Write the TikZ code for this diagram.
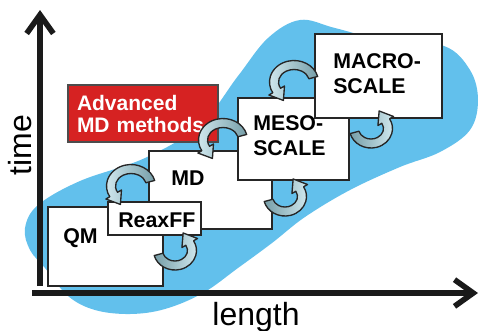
\documentclass[tikz,border=0pt]{standalone}
\usepackage{fontspec}
\setmainfont{Liberation Sans}
\usetikzlibrary{arrows.meta}

\definecolor{blobblue}{RGB}{98,192,236}
\definecolor{advred}{RGB}{214,34,34}
\definecolor{cyclelight}{RGB}{208,232,238}
\definecolor{cycledark}{RGB}{118,158,168}
\definecolor{axisblack}{RGB}{26,26,26}

\tikzset{
  scalebox/.style={draw=black!85, fill=white, line width=1.1pt, inner sep=0pt},
  methodbox/.style={draw=black!70, fill=advred, line width=0.9pt, text=white, align=left,
    font=\bfseries\fontsize{15.75}{16.5}\selectfont},
  boxlabel/.style={font=\bfseries\fontsize{16}{18.75}\selectfont, inner sep=0pt, align=left, anchor=west},
  axislabel/.style={font=\fontsize{24}{28}\selectfont, inner sep=0pt},
  axisline/.style={draw=axisblack, line width=4.2pt, -{Straight Barb[length=14pt, width=20pt]}},
  cyclebody/.style={draw=black!85, line width=1pt, line join=round},
  cycleup/.style={cyclebody, left color=cyclelight, right color=cycledark},
  cyclelow/.style={cyclebody, left color=cycledark, right color=cyclelight},
  pics/cyclearrow/.style n args={5}{code={
    \pgfmathsetmacro\carx{#1}
    \pgfmathsetmacro\cary{#2}
    \pgfmathsetmacro\cast{#3}
    \pgfmathsetmacro\caend{#4}
    \pgfmathsetmacro\caxo{\carx+4.5}
    \pgfmathsetmacro\cayo{\cary+4.5}
    \pgfmathsetmacro\caxi{\carx-4.5}
    \pgfmathsetmacro\cayi{\cary-4.5}
    \pgfmathsetmacro\canorm{sqrt((\carx*sin(\caend))^2+(\cary*cos(\caend))^2)}
    \pgfmathsetmacro\catipx{\carx*cos(\caend)-12*\carx*sin(\caend)/\canorm}
    \pgfmathsetmacro\catipy{\cary*sin(\caend)+12*\cary*cos(\caend)/\canorm}
    \filldraw[#5]
      ({\caxo*cos(\cast)},{\cayo*sin(\cast)})
        arc[start angle=\cast, end angle=\caend, x radius=\caxo, y radius=\cayo]
      -- ({(\carx+9)*cos(\caend)},{(\cary+9)*sin(\caend)})
      -- (\catipx,\catipy)
      -- ({(\carx-9)*cos(\caend)},{(\cary-9)*sin(\caend)})
      -- ({\caxi*cos(\caend)},{\cayi*sin(\caend)})
        arc[start angle=\caend, end angle=\cast, x radius=\caxi, y radius=\cayi]
      -- cycle;
  }}
}

\begin{document}
\begin{tikzpicture}[x=0.75pt,y=0.75pt,yscale=-1,xscale=1]
\useasboundingbox (0,0) rectangle (479,330);

%Shape: Blob [id:blob]
\fill[blobblue] plot[smooth cycle, tension=0.6] coordinates {
  (25,228) (38,205) (80,181) (145,158) (200,125) (238,76) (268,38) (300,20)
  (335,28) (390,42) (444,46) (470,70) (478,100) (470,130) (440,152) (400,167)
  (350,190) (305,217) (272,243) (238,268) (203,293) (165,309) (130,314)
  (95,310) (68,296) (45,268) (30,250)};

%Shape: Rectangles
\node[scalebox, minimum width=86.25pt, minimum height=59.25pt] (qm) at (105.5,246.5) {};
\node[scalebox, minimum width=92.25pt, minimum height=58.5pt] (md) at (210.5,190) {};
\node[scalebox, minimum width=69.75pt, minimum height=24.75pt] (reaxff) at (154.5,218.5) {};
\node[scalebox, minimum width=83.25pt, minimum height=61.5pt] (meso) at (293.5,139) {};
\node[scalebox, minimum width=95.25pt, minimum height=63pt] (macro) at (378.5,76) {};
\node[methodbox, minimum height=42.75pt, text width=99pt, inner xsep=6.75pt] (advmd) at (143,113.5) {Advanced\\MD methods};

% Text Node
\node[boxlabel] (qmtext) at (63,238) {QM};
% Text Node
\node[boxlabel] (reaxfftext) at (118,220) {ReaxFF};
% Text Node
\node[boxlabel] (mdtext) at (171,178) {MD};
% Text Node
\node[boxlabel] (mesotext) at (253,136) {MESO-\\SCALE};
% Text Node
\node[boxlabel] (macrotext) at (333,74) {MACRO-\\SCALE};

%Curved Arrows
\pic (up1) at (131,186) {cyclearrow={20}{17}{15}{210}{cycleup}};
\pic (low1) at (175,250.5) {cyclearrow={17}{15}{195}{390}{cyclelow}};
\pic (up2) at (223,140) {cyclearrow={20}{17}{15}{210}{cycleup}};
\pic (low2) at (285,196.5) {cyclearrow={17}{15}{195}{390}{cyclelow}};
\pic (up3) at (294,82) {cyclearrow={20}{17}{15}{210}{cycleup}};
\pic (low3) at (371,128.5) {cyclearrow={17}{15}{195}{390}{cyclelow}};

%Straight Lines: axes
\coordinate (origin) at (40,293);
\coordinate (timeend) at (40,10);
\coordinate (lengthend) at (478,293);
\draw[axisline] ([yshift=-7*0.75pt]origin) -- (timeend);
\draw[axisline] ([xshift=-8*0.75pt]origin) -- (lengthend);

% Text Node
\node[axislabel, rotate=90] (timelabel) at (20,145) {time};
% Text Node
\node[axislabel, anchor=base] (lengthlabel) at (256,325) {length};

\end{tikzpicture}
\end{document}
